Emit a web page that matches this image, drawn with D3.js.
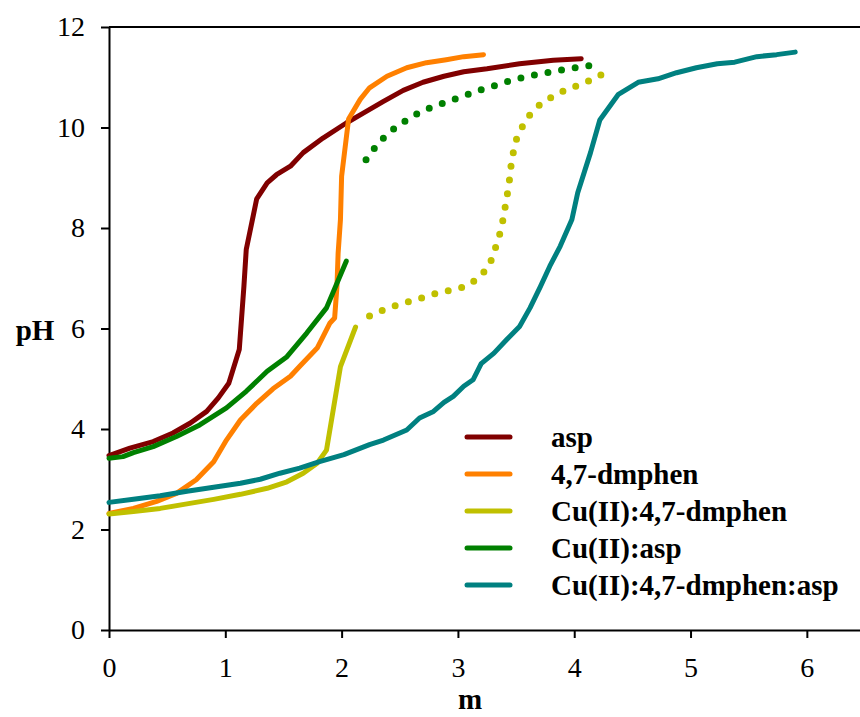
<html>
<head>
<meta charset="utf-8">
<title>pH titration curves</title>
<script src="https://cdnjs.cloudflare.com/ajax/libs/d3/7.8.5/d3.min.js"></script>
<style>
body {
  margin: 0;
  background: #FFFFFF;
}
svg {
  display: block;
}
.axis path, .axis line {
  stroke: #000;
  stroke-width: 2;
}
</style>
</head>
<body>
<div class="target"></div>
<script>
// values: m (x) and pH (y)
var aspM  = [0, 0.18, 0.38, 0.55, 0.70, 0.84, 0.94, 1.03, 1.12, 1.16, 1.18, 1.27, 1.36, 1.44, 1.56, 1.67, 1.84, 2.04, 2.19, 2.36, 2.53, 2.70, 2.88, 3.05, 3.25, 3.53, 3.82, 4.06];
var aspPH = [3.47, 3.62, 3.75, 3.92, 4.12, 4.35, 4.62, 4.91, 5.58, 6.84, 7.57, 8.58, 8.90, 9.06, 9.23, 9.50, 9.79, 10.09, 10.29, 10.52, 10.74, 10.90, 11.02, 11.11, 11.17, 11.27, 11.34, 11.37];

var dmphenM  = [0, 0.21, 0.41, 0.58, 0.75, 0.90, 1.01, 1.13, 1.27, 1.41, 1.56, 1.64, 1.79, 1.90, 1.94, 1.96, 1.97, 1.99, 2.00, 2.06, 2.16, 2.24, 2.39, 2.56, 2.73, 2.90, 3.05, 3.22];
var dmphenPH = [2.32, 2.42, 2.56, 2.72, 2.99, 3.35, 3.78, 4.18, 4.51, 4.80, 5.05, 5.25, 5.61, 6.11, 6.21, 6.84, 7.50, 8.17, 9.03, 10.17, 10.56, 10.79, 11.02, 11.19, 11.29, 11.35, 11.41, 11.45];

var cuDmphenM  = [0, 0.21, 0.44, 0.67, 0.90, 1.13, 1.36, 1.53, 1.67, 1.79, 1.87, 1.99, 2.12];
var cuDmphenPH = [2.31, 2.36, 2.42, 2.51, 2.60, 2.70, 2.82, 2.95, 3.12, 3.32, 3.58, 5.24, 6.03];
var cuDmphenDotM  = [2.24, 2.36, 2.48, 2.60, 2.72, 2.83, 2.95, 3.07, 3.18, 3.27, 3.31, 3.35, 3.38, 3.40, 3.42, 3.44, 3.45, 3.47, 3.49, 3.54, 3.61, 3.71, 3.83, 3.94, 4.06, 4.18, 4.30];
var cuDmphenDotPH = [6.25, 6.37, 6.47, 6.55, 6.63, 6.71, 6.77, 6.84, 7.01, 7.25, 7.52, 7.79, 8.07, 8.33, 8.61, 8.88, 9.14, 9.42, 9.69, 9.96, 10.23, 10.47, 10.64, 10.76, 10.86, 10.98, 11.14];

var cuAspM  = [0, 0.12, 0.21, 0.38, 0.58, 0.78, 1.01, 1.18, 1.36, 1.53, 1.70, 1.87, 2.04];
var cuAspPH = [3.42, 3.45, 3.53, 3.65, 3.85, 4.08, 4.42, 4.75, 5.15, 5.44, 5.91, 6.41, 7.34];
var cuAspDotM  = [2.21, 2.30, 2.40, 2.52, 2.63, 2.75, 2.87, 2.99, 3.10, 3.22, 3.34, 3.46, 3.57, 3.69, 3.81, 3.93, 4.04, 4.16];
var cuAspDotPH = [9.36, 9.64, 9.89, 10.09, 10.25, 10.38, 10.48, 10.58, 10.67, 10.77, 10.85, 10.94, 11.00, 11.06, 11.11, 11.16, 11.20, 11.24];

var ternM  = [0, 0.21, 0.44, 0.67, 0.90, 1.13, 1.30, 1.47, 1.64, 1.81, 2.02, 2.24, 2.36, 2.56, 2.67, 2.79, 2.88, 2.96, 3.05, 3.13, 3.20, 3.31, 3.42, 3.53, 3.62, 3.71, 3.79, 3.88, 3.98, 4.03, 4.14, 4.22, 4.38, 4.55, 4.72, 4.88, 5.05, 5.23, 5.38, 5.57, 5.74, 5.90];
var ternPH = [2.54, 2.60, 2.67, 2.76, 2.84, 2.92, 3.00, 3.12, 3.22, 3.35, 3.49, 3.69, 3.78, 3.98, 4.22, 4.35, 4.53, 4.65, 4.85, 4.98, 5.30, 5.51, 5.78, 6.04, 6.41, 6.84, 7.24, 7.64, 8.17, 8.70, 9.50, 10.15, 10.66, 10.90, 10.97, 11.09, 11.19, 11.27, 11.30, 11.41, 11.45, 11.50];

var seriesNames  = ["asp", "4,7-dmphen", "Cu(II):4,7-dmphen", "Cu(II):asp", "Cu(II):4,7-dmphen:asp"];
var seriesColors = ["#800000", "#FF8000", "#C0C000", "#008000", "#008080"];

var xTicks = [0, 1, 2, 3, 4, 5, 6];
var yTicks = [0, 2, 4, 6, 8, 10, 12];

drawChart('.target');

function drawChart(target) {
  'use strict';

  var width = 860, height = 717,
    serif = "Times New Roman";

  var svg = d3.select(target)
    .append('svg')
      .attr('width', width)
      .attr('height', height)
      .attr('font-family', serif);

  var x = d3.scaleLinear().domain([0, 6.5]).range([109, 865]);
  var y = d3.scaleLinear().domain([0, 12]).range([630, 27]);

  function zip(ms, phs) {
    return ms.map(function(m, i) { return [m, phs[i]]; });
  }

  var line = d3.line()
    .x(function(d) { return x(d[0]); })
    .y(function(d) { return y(d[1]); });

  // top frame line
  svg.append('line')
    .attr('x1', x(0)).attr('x2', x(6.5))
    .attr('y1', y(12)).attr('y2', y(12))
    .attr('stroke', '#000')
    .attr('stroke-width', 2);

  var xAxis = svg.append('g')
    .attr('class', 'axis')
    .attr('transform', 'translate(0,' + y(0) + ')')
    .call(d3.axisBottom(x).tickValues(xTicks).tickSize(8).tickSizeOuter(0).tickPadding(19).tickFormat(d3.format('d')));

  var yAxis = svg.append('g')
    .attr('class', 'axis')
    .attr('transform', 'translate(' + x(0) + ',0)')
    .call(d3.axisLeft(y).tickValues(yTicks).tickSize(8).tickSizeOuter(0).tickPadding(16).tickFormat(d3.format('d')));

  // the axis generator puts its own font on the group
  xAxis.attr('font-family', serif).attr('font-size', 28);
  yAxis.attr('font-family', serif).attr('font-size', 28);
  svg.selectAll('.axis text').attr('fill', '#000');

  // solid curves in legend order
  var solids = [zip(aspM, aspPH), zip(dmphenM, dmphenPH), zip(cuDmphenM, cuDmphenPH), zip(cuAspM, cuAspPH), zip(ternM, ternPH)];
  // dotted continuations
  var dotted = [
    {data: zip(cuDmphenDotM, cuDmphenDotPH), color: seriesColors[2]},
    {data: zip(cuAspDotM, cuAspDotPH), color: seriesColors[3]}
  ];

  svg.append('g')
    .selectAll('path')
    .data(dotted)
    .enter().append('path')
      .attr('d', function(d) { return line(d.data); })
      .attr('fill', 'none')
      .attr('stroke', function(d) { return d.color; })
      .attr('stroke-width', 7)
      .attr('stroke-linecap', 'round')
      .attr('stroke-dasharray', '0 13.8');

  svg.append('g')
    .selectAll('path')
    .data(solids)
    .enter().append('path')
      .attr('d', line)
      .attr('fill', 'none')
      .attr('stroke', function(d, i) { return seriesColors[i]; })
      .attr('stroke-width', 5)
      .attr('stroke-linejoin', 'round')
      .attr('stroke-linecap', 'round');

  // legend
  var legend = svg.append('g')
    .attr('font-family', serif)
    .attr('font-size', 29)
    .attr('font-weight', 'bold')
    .selectAll('g')
    .data(seriesNames)
    .enter().append('g')
      .attr('transform', function(d, i) { return 'translate(0,' + (437 + i * 37) + ')'; });

  legend.append('line')
    .attr('x1', 467).attr('x2', 510)
    .attr('stroke', function(d, i) { return seriesColors[i]; })
    .attr('stroke-width', 5)
    .attr('stroke-linecap', 'round');

  legend.append('text')
    .attr('x', 551)
    .attr('dy', '0.33em')
    .text(function(d) { return d; });

  svg.append('text')
    .attr('x', 35)
    .attr('y', 340)
    .attr('text-anchor', 'middle')
    .attr('font-size', 29)
    .attr('font-weight', 'bold')
    .text('pH');

  svg.append('text')
    .attr('x', 470)
    .attr('y', 709)
    .attr('text-anchor', 'middle')
    .attr('font-size', 29)
    .attr('font-weight', 'bold')
    .text('m');
}
</script>
</body>
</html>
